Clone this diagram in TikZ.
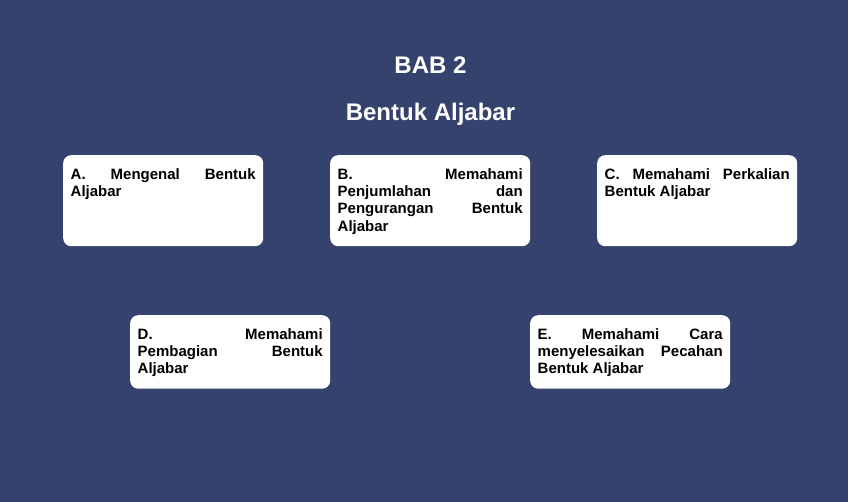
\documentclass[tikz,border=0pt]{standalone}
\usepackage{fontspec}
\setmainfont{Liberation Sans}
\definecolor{latar}{RGB}{53,66,110}
\hyphenpenalty=10000
\tolerance=10000

\begin{document}
\begin{tikzpicture}[x=1pt,y=-1pt]
\tikzstyle{every node}+=[inner sep=0pt]
\tikzstyle{judul}=[white, anchor=base, font=\fontsize{24}{28}\selectfont\bfseries]
\tikzstyle{subbab}=[fill=white, rounded corners=8pt, anchor=north west, text width=185pt, inner xsep=7.5pt, align=justify, text height=24pt, font=\fontsize{15}{17.3}\selectfont\bfseries]
\fill [latar] (0,0) rectangle (848,502);
\node [judul] (bab) at (430.5,73.3) {BAB 2};
\node [judul] (nama) at (430.5,121) {Bentuk Aljabar};
\node [subbab, text depth=67pt] (A) at (63,155) {A. Mengenal Bentuk\linebreak Aljabar};
\node [subbab, text depth=67pt] (B) at (330,155) {B. Memahami\linebreak Penjumlahan dan\linebreak Pengurangan Bentuk\linebreak Aljabar};
\node [subbab, text depth=67pt] (C) at (597,155) {C. Memahami Perkalian\linebreak Bentuk Aljabar};
\node [subbab, text depth=49.5pt] (D) at (130,315) {D. Memahami\linebreak Pembagian Bentuk\linebreak Aljabar};
\node [subbab, text depth=49.5pt] (E) at (530,315) {E. Memahami Cara\linebreak menyelesaikan Pecahan\linebreak Bentuk Aljabar};
\end{tikzpicture}
\end{document}
